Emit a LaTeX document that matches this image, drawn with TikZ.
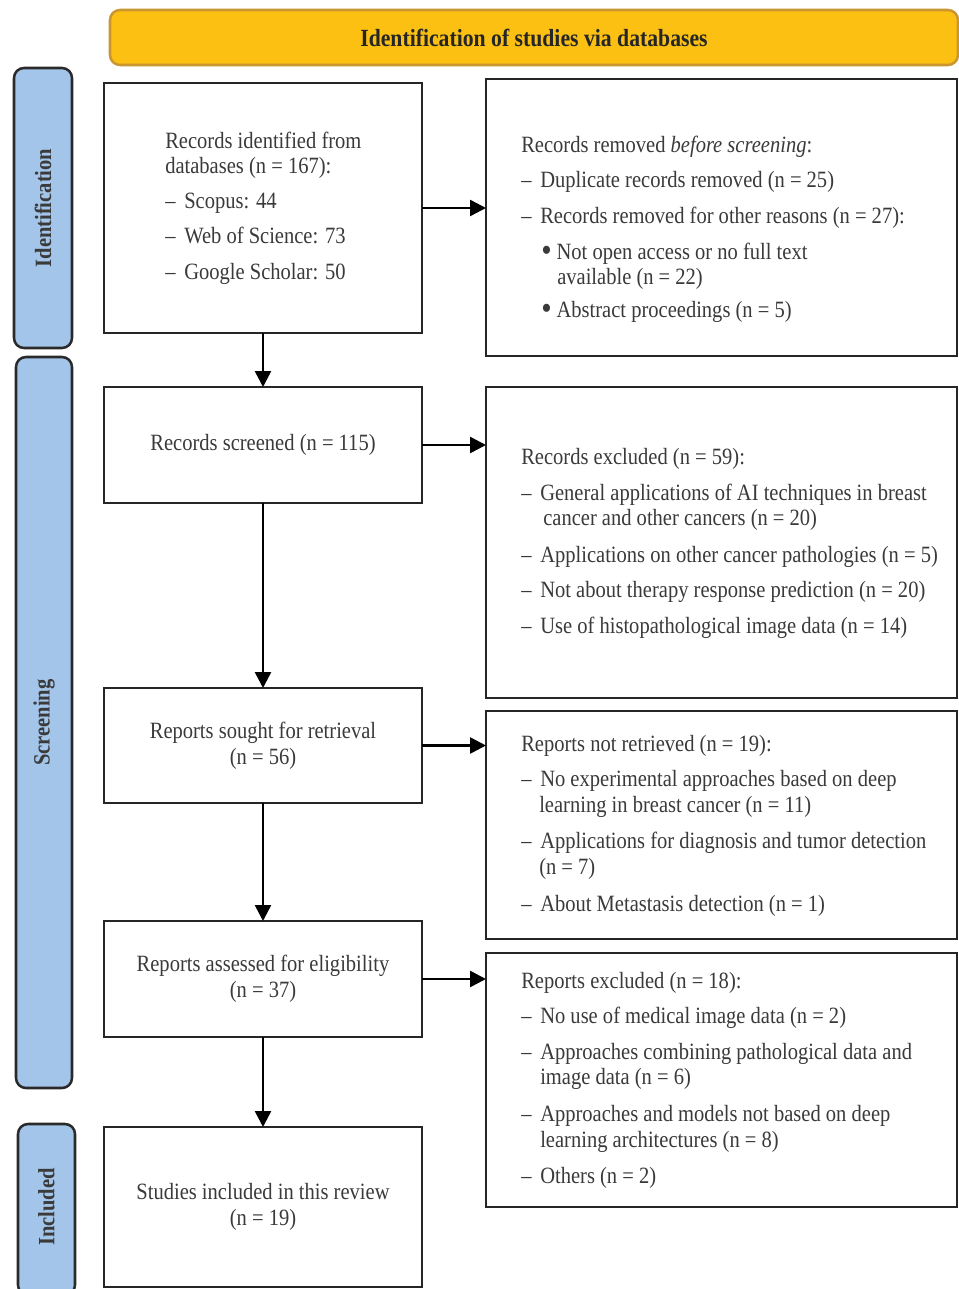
\documentclass[tikz,border=0pt]{standalone}
\usepackage{fontspec}
\setmainfont{Liberation Serif}[FakeStretch=0.88]
\usetikzlibrary{arrows.meta}
\definecolor{hdrfill}{HTML}{FBC012}
\definecolor{hdrline}{HTML}{C9962F}
\definecolor{barfill}{HTML}{A4C5EA}
\definecolor{barline}{HTML}{2A2A2A}
\definecolor{boxline}{HTML}{262626}
\definecolor{txtcol}{HTML}{3A3A3A}
\newcommand\dash{\makebox[14.25pt][l]{–}}
\newcommand\bul{\makebox[11.5pt][l]{\raisebox{-0.25ex}{\scalebox{1.45}{•}}}}
\newcommand\txtline[4]{\node[txt] (#1) at (#2,#3) {#4};}
\begin{document}
\begin{tikzpicture}[x=0.75pt,y=-0.75pt,
  box/.style={draw=boxline,line width=1.9pt,fill=white,inner sep=0pt,outer sep=0pt},
  bar/.style={draw=barline,fill=barfill,line width=1.9pt,rounded corners=7.5pt,inner sep=0pt,outer sep=0pt},
  bartxt/.style={rotate=90,font=\fontsize{17.5pt}{18.75pt}\selectfont\bfseries,text=txtcol},
  txt/.style={anchor=base west,inner sep=0pt,font=\fontsize{17.5pt}{18.75pt}\selectfont,text=txtcol},
  ctr/.style={align=center,inner sep=0pt,font=\fontsize{17.5pt}{19.5pt}\selectfont,text=txtcol},
  arr/.style={line width=1.9pt,draw=black,-{Triangle[length=12pt,width=12pt]}}]
\useasboundingbox (0,0) rectangle (959,1289);
% header
\node[draw=hdrline,fill=hdrfill,line width=1.9pt,rounded corners=7.5pt,minimum width=636pt,minimum height=41.25pt,inner sep=0pt,
  font=\fontsize{18.5pt}{19pt}\selectfont\bfseries,text=black!85] (hdr) at (534,37.5) {Identification of studies via databases};
% side bars
\node[bar,minimum width=43.5pt,minimum height=210pt] (sid) at (43,208) {};
\node[bartxt] (sidt) at (sid.center) {Identification};
\node[bar,minimum width=42pt,minimum height=548.25pt] (sscr) at (44,722.5) {};
\node[bartxt] (sscrt) at (sscr.center) {Screening};
\node[bar,minimum width=42.75pt,minimum height=128.25pt] (sinc) at (46.5,1209.5) {};
\node[bartxt] (sinct) at (46.5,1207) {Included};
% left boxes
\node[box,minimum width=238.5pt,minimum height=187.5pt] (b1) at (263,208) {};
\node[box,minimum width=238.5pt,minimum height=87pt] (b2) at (263,445) {};
\node[box,minimum width=238.5pt,minimum height=86.25pt] (b3) at (263,745.5) {};
\node[box,minimum width=238.5pt,minimum height=87pt] (b4) at (263,979) {};
\node[box,minimum width=238.5pt,minimum height=120pt] (b5) at (263,1207) {};
% right boxes
\node[box,minimum width=353.25pt,minimum height=207.75pt] (r1) at (721.5,217.5) {};
\node[box,minimum width=353.25pt,minimum height=233.25pt] (r2) at (721.5,542.5) {};
\node[box,minimum width=353.25pt,minimum height=171pt] (r3) at (721.5,825) {};
\node[box,minimum width=353.25pt,minimum height=190.5pt] (r4) at (721.5,1080) {};
% connectors
\draw[arr] (b1.south) -- (b2.north);
\draw[arr] (b2.south) -- (b3.north);
\draw[arr] (b3.south) -- (b4.north);
\draw[arr] (b4.south) -- (b5.north);
\draw[arr] (b1.east) -- (b1.east -| r1.west);
\draw[arr] (b2.east) -- (b2.east -| r2.west);
\draw[arr] (b3.east) -- (b3.east -| r3.west);
\draw[arr] (b4.east) -- (b4.east -| r4.west);
% box 1 text
\txtline{b1a}{165}{148}{Records identified from}
\txtline{b1b}{165}{173}{databases (n = 167):}
\txtline{b1c}{165}{208}{\dash Scopus: 44}
\txtline{b1d}{165}{243}{\dash Web of Science: 73}
\txtline{b1e}{165}{279}{\dash Google Scholar: 50}
% centred texts
\node[ctr] (b2t) at (263,445) {Records screened (n = 115)};
\node[ctr] (b3t) at (263,746) {Reports sought for retrieval\\(n = 56)};
\node[ctr] (b4t) at (263,979) {Reports assessed for eligibility\\(n = 37)};
\node[ctr] (b5t) at (263,1207) {Studies included in this review\\(n = 19)};
% r1 text
\txtline{r1a}{521}{152}{Records removed \textit{before screening}:}
\txtline{r1b}{521}{187}{\dash Duplicate records removed (n = 25)}
\txtline{r1c}{521}{223}{\dash Records removed for other reasons (n = 27):}
\txtline{r1d}{541}{259}{\bul Not open access or no full text}
\txtline{r1e}{557}{284}{available (n = 22)}
\txtline{r1f}{541}{317}{\bul Abstract proceedings (n = 5)}
% r2 text
\txtline{r2a}{521}{464}{Records excluded (n = 59):}
\txtline{r2b}{521}{500}{\dash General applications of AI techniques in breast}
\txtline{r2c}{543}{525}{cancer and other cancers (n = 20)}
\txtline{r2d}{521}{562}{\dash Applications on other cancer pathologies (n = 5)}
\txtline{r2e}{521}{597}{\dash Not about therapy response prediction (n = 20)}
\txtline{r2f}{521}{633}{\dash Use of histopathological image data (n = 14)}
% r3 text
\txtline{r3a}{521}{751}{Reports not retrieved (n = 19):}
\txtline{r3b}{521}{786}{\dash No experimental approaches based on deep}
\txtline{r3c}{539}{812}{learning in breast cancer (n = 11)}
\txtline{r3d}{521}{848}{\dash Applications for diagnosis and tumor detection}
\txtline{r3e}{539}{874}{(n = 7)}
\txtline{r3f}{521}{911}{\dash About Metastasis detection (n = 1)}
% r4 text
\txtline{r4a}{521}{988}{Reports excluded (n = 18):}
\txtline{r4b}{521}{1023}{\dash No use of medical image data (n = 2)}
\txtline{r4c}{521}{1059}{\dash Approaches combining pathological data and}
\txtline{r4d}{540}{1084}{image data (n = 6)}
\txtline{r4e}{521}{1121}{\dash Approaches and models not based on deep}
\txtline{r4f}{540}{1147}{learning architectures (n = 8)}
\txtline{r4g}{521}{1183}{\dash Others (n = 2)}
\end{tikzpicture}
\end{document}
